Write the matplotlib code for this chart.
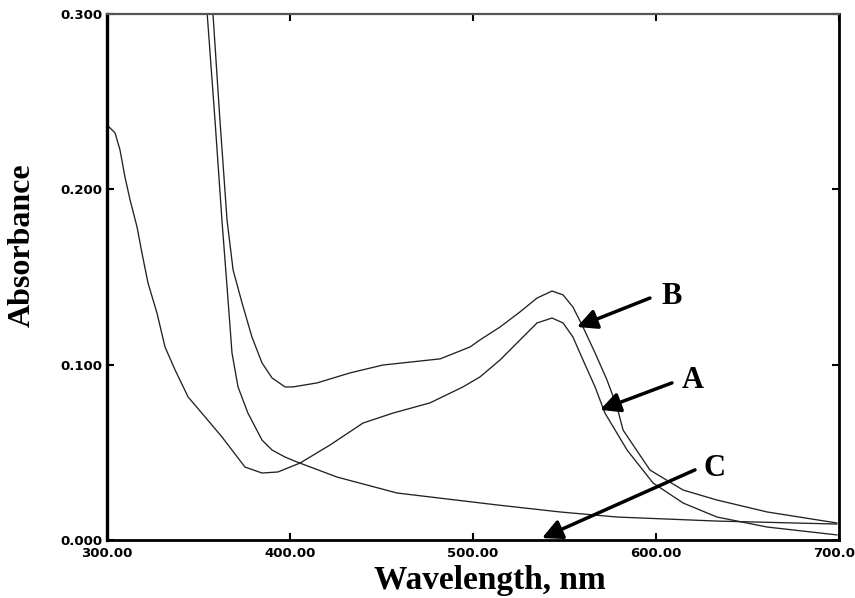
import matplotlib
matplotlib.use("Agg")
import matplotlib.pyplot as plt

# ---- data (wavelength nm, absorbance) ----
wl_A = [301.1, 304.4, 307.1, 309.8, 312.6, 316.4, 319.1, 322.4, 327.3, 331.7, 337.2,
        344.3, 353.6, 362.8, 368.3, 375.4, 384.7, 393.4, 405.5, 421.9, 439.9, 456.3,
        476.5, 494.5, 503.8, 514.8, 525.7, 535.0, 543.2, 549.2, 554.6, 560.1, 566.7,
        572.1, 584.2, 598.4, 614.8, 633.3, 660.7, 698.9]
abs_A = [0.2356, 0.2322, 0.2225, 0.2071, 0.1940, 0.1786, 0.1637, 0.1466, 0.1295, 0.1101, 0.0970,
         0.0816, 0.0702, 0.0588, 0.0513, 0.0416, 0.0382, 0.0388, 0.0439, 0.0542, 0.0667, 0.0724,
         0.0782, 0.0873, 0.0930, 0.1027, 0.1141, 0.1238, 0.1266, 0.1238, 0.1158, 0.1027, 0.0873,
         0.0724, 0.0513, 0.0325, 0.0211, 0.0131, 0.0074, 0.0029]

wl_B = [357.6, 361.7, 365.6, 368.9, 373.8, 379.2, 384.7, 390.2, 397.3, 401.6, 414.8,
        432.8, 450.8, 482.0, 498.4, 503.8, 514.8, 525.7, 535.0, 543.2, 549.2, 554.6,
        560.1, 566.7, 573.2, 578.7, 582.0, 596.7, 614.8, 633.3, 660.7, 698.9]
abs_B = [0.305, 0.2396, 0.1825, 0.1540, 0.1352, 0.1158, 0.1010, 0.0924, 0.0873, 0.0873, 0.0896,
         0.0953, 0.0998, 0.1033, 0.1101, 0.1141, 0.1215, 0.1301, 0.1380, 0.1420, 0.1398, 0.1329,
         0.1215, 0.1067, 0.0913, 0.0759, 0.0627, 0.0399, 0.0285, 0.0228, 0.0160, 0.0097]

wl_C = [354.4, 359.0, 362.8, 365.6, 368.3, 371.6, 377.0, 384.7, 390.2, 397.3, 403.8,
        425.7, 458.5, 485.8, 513.1, 547.5, 578.7, 633.3, 698.9]
abs_C = [0.305, 0.2396, 0.1825, 0.1443, 0.1067, 0.0873, 0.0724, 0.0570, 0.0513, 0.0473, 0.0445,
         0.0359, 0.0268, 0.0234, 0.0200, 0.0160, 0.0131, 0.0108, 0.0091]

x_ticks = [300, 400, 500, 600, 700]
x_ticklabels = ["300.00", "400.00", "500.00", "600.00", "700.00"]
y_ticks = [0.0, 0.1, 0.2, 0.3]
y_ticklabels = ["0.000", "0.100", "0.200", "0.300"]

curve_labels = ["A", "B", "C"]
label_pos = [(620.2, 0.0907), (608.7, 0.1386), (632.2, 0.0410)]
arrow_tail = [(608.7, 0.0896), (596.7, 0.1380), (621.3, 0.0400)]
arrow_head = [(569.4, 0.0742), (556.8, 0.1215), (537.7, 0.0011)]

# ---- figure ----
fig = plt.figure(figsize=(8.55, 5.98), dpi=100)
ax = fig.add_axes([107/855, 1-540/598, (839-107)/855, (540-14)/598])

for wl, ab in [(wl_A, abs_A), (wl_B, abs_B), (wl_C, abs_C)]:
    ax.plot(wl, ab, color="#222222", lw=0.95, solid_joinstyle="round",
            solid_capstyle="round")

ax.set_xlim(300, 700)
ax.set_ylim(0, 0.3)
ax.set_xticks(x_ticks)
ax.set_xticklabels(x_ticklabels)
ax.set_yticks(y_ticks)
ax.set_yticklabels(y_ticklabels)
ax.tick_params(direction="in", length=5, width=1.5, top=True, right=True,
               labelsize=9.5)
ax.tick_params(axis="x", pad=5)
ax.tick_params(axis="y", pad=3)
for lab in ax.get_xticklabels() + ax.get_yticklabels():
    lab.set_fontweight("bold")
    lab.set_family("DejaVu Sans")

ax.spines["left"].set_linewidth(2.4)
ax.spines["bottom"].set_linewidth(2.0)
ax.spines["right"].set_linewidth(2.0)
ax.spines["top"].set_linewidth(1.6)
ax.spines["top"].set_color("#555555")

for lab, lp, tail, head in zip(curve_labels, label_pos, arrow_tail, arrow_head):
    ax.annotate("", xy=head, xytext=tail,
                arrowprops=dict(arrowstyle="-|>,head_length=0.6,head_width=0.3",
                                lw=2.5, color="black", mutation_scale=20,
                                shrinkA=0, shrinkB=0),
                annotation_clip=False)
    ax.text(lp[0], lp[1], lab, ha="center", va="center", fontsize=22,
            fontweight="bold", family="Liberation Serif")

fig.text(490/855, 2/598, "Wavelength, nm", ha="center", va="bottom",
         fontsize=24, fontweight="bold", family="Liberation Serif")
fig.text(22/855, 1-245/598, "Absorbance", ha="center", va="center", rotation=90,
         fontsize=23, fontweight="bold", family="Liberation Serif")

fig.savefig("out.png", dpi=100)
